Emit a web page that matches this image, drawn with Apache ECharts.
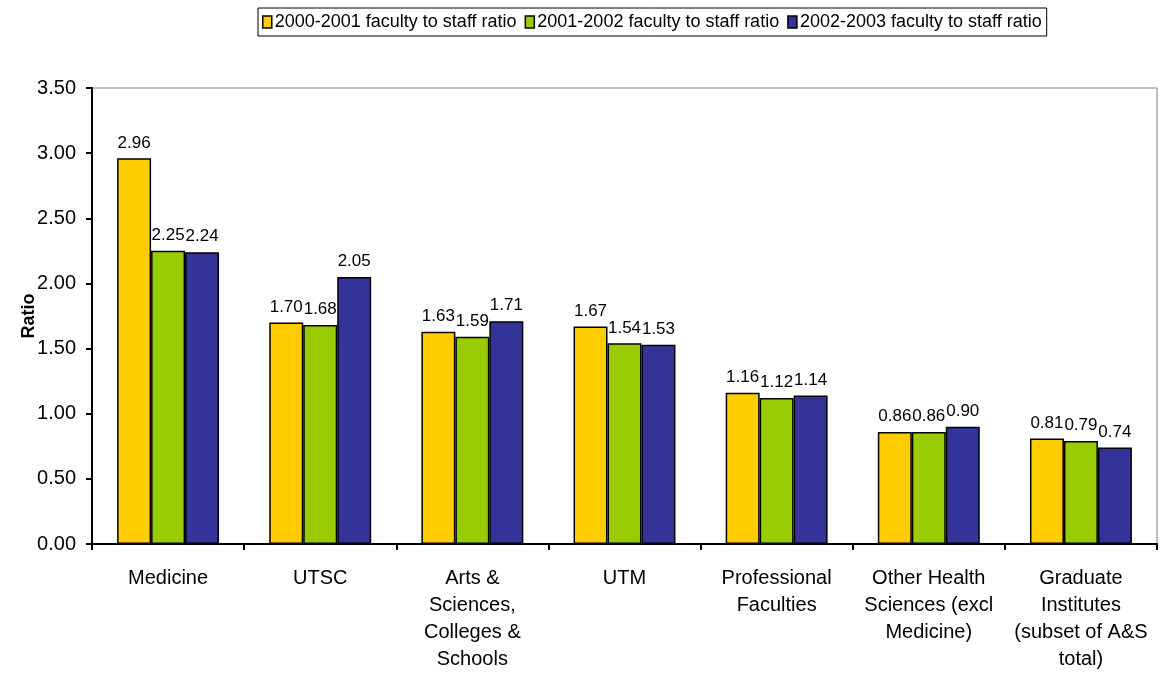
<!DOCTYPE html>
<html>
<head>
<meta charset="utf-8">
<script src="https://cdn.jsdelivr.net/npm/echarts@6/dist/echarts.min.js"></script>
<style>
  html, body { margin: 0; padding: 0; background: #fff; }
  #chart { width: 1161px; height: 673px; }
</style>
</head>
<body>
<div id="chart"></div>
<script>
// categories along the x axis
const categories = [
  'Medicine',
  'UTSC',
  'Arts &\nSciences,\nColleges &\nSchools',
  'UTM',
  'Professional\nFaculties',
  'Other Health\nSciences (excl\nMedicine)',
  'Graduate\nInstitutes\n(subset of A&S\ntotal)'
];
const seriesNames = [
  '2000-2001 faculty to staff ratio',
  '2001-2002 faculty to staff ratio',
  '2002-2003 faculty to staff ratio'
];
const ratio2000 = [2.96, 1.70, 1.63, 1.67, 1.16, 0.86, 0.81];
const ratio2001 = [2.25, 1.68, 1.59, 1.54, 1.12, 0.86, 0.79];
const ratio2002 = [2.24, 2.05, 1.71, 1.53, 1.14, 0.90, 0.74];
const colors = ['#FFCC00', '#99CC00', '#333399'];

const font = 'Liberation Sans, Arial, sans-serif';
const myChart = echarts.init(document.getElementById('chart'));

const makeSeries = (name, data, i) => ({
  name: name,
  type: 'bar',
  data: data,
  barGap: '0%',
  barCategoryGap: '33%',
  itemStyle: { color: colors[i], borderColor: '#000', borderWidth: 1.5 },
  label: {
    show: true,
    position: 'top',
    distance: 7,
    color: '#000',
    fontFamily: font,
    fontSize: 17,
    formatter: p => p.value.toFixed(2)
  }
});

myChart.setOption({
  animation: false,
  backgroundColor: '#fff',
  legend: {
    left: 258,
    top: 8,
    padding: [5, 5, 5, 4],
    itemGap: 8,
    itemWidth: 9,
    itemHeight: 12,
    borderColor: '#000',
    borderWidth: 1,
    icon: 'rect',
    itemStyle: { borderColor: '#000', borderWidth: 1.5 },
    textStyle: { fontFamily: font, fontSize: 18, color: '#000', padding: [0, 0, 0, -2] },
    data: seriesNames
  },
  grid: {
    left: 92, right: 4, top: 88, bottom: 128,
    show: true, borderColor: '#808080', borderWidth: 1
  },
  xAxis: {
    type: 'category',
    data: categories,
    axisLine: { lineStyle: { color: '#000', width: 2 } },
    axisTick: { show: true, inside: false, length: 6, lineStyle: { color: '#000', width: 2 } },
    axisLabel: {
      color: '#000', fontFamily: font, fontSize: 20, lineHeight: 27,
      margin: 21, interval: 0
    }
  },
  yAxis: {
    type: 'value',
    min: 0, max: 3.5, interval: 0.5,
    name: 'Ratio',
    nameLocation: 'middle',
    nameGap: 54,
    nameMoveOverlap: false,
    nameRotate: 90,
    nameTextStyle: { fontFamily: font, fontSize: 18, fontWeight: 'bold', color: '#000' },
    axisLine: { show: true, lineStyle: { color: '#000', width: 2 } },
    axisTick: { show: true, length: 6, lineStyle: { color: '#000', width: 2 } },
    splitLine: { show: false },
    axisLabel: {
      color: '#000', fontFamily: font, fontSize: 20, margin: 16,
      formatter: v => v.toFixed(2)
    }
  },
  series: [
    makeSeries(seriesNames[0], ratio2000, 0),
    makeSeries(seriesNames[1], ratio2001, 1),
    makeSeries(seriesNames[2], ratio2002, 2)
  ]
});
window.addEventListener('resize', () => myChart.resize());
</script>
</body>
</html>
